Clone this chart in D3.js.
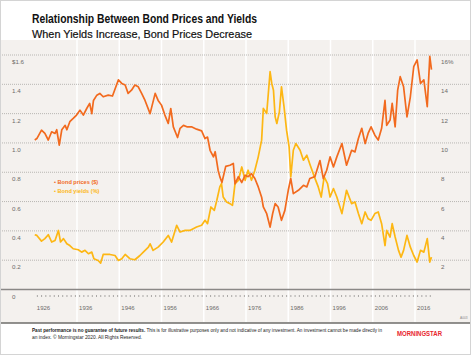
<!DOCTYPE html>
<html><head><meta charset="utf-8">
<script src="https://cdn.jsdelivr.net/npm/d3@7"></script>
<style>
html,body{margin:0;padding:0;background:#fff;}
svg{display:block;}
text{font-family:"Liberation Sans Narrow","Liberation Sans",Arial,sans-serif;}
</style></head>
<body>
<svg id="c" width="471" height="355"></svg>
<script>
// ---- data ----
const priceDates = [1926.0,1926.5,1927.6,1928.4,1929.2,1930.0,1930.8,1931.2,1931.8,1932.4,1933.2,1933.6,1934.3,1935.1,1935.9,1936.7,1937.5,1938.3,1939.0,1939.5,1939.9,1940.7,1941.4,1942.2,1943.4,1944.4,1945.2,1945.8,1946.6,1947.4,1948.1,1948.9,1949.7,1950.5,1951.3,1952.1,1953.3,1954.5,1955.2,1956.0,1956.8,1957.6,1958.2,1958.8,1959.8,1960.4,1961.2,1962.0,1963.1,1964.3,1965.5,1966.3,1966.9,1967.5,1968.3,1968.7,1969.4,1969.8,1970.3,1971.2,1972.2,1973.0,1973.4,1974.2,1975.0,1975.8,1976.5,1977.3,1978.1,1978.9,1979.7,1980.1,1980.9,1981.7,1982.3,1982.9,1983.6,1984.4,1985.2,1986.0,1986.6,1987.2,1988.4,1989.6,1990.4,1991.1,1992.3,1993.5,1994.3,1995.1,1995.9,1996.7,1997.5,1998.7,1999.8,2001.0,2001.8,2002.6,2003.4,2004.2,2004.9,2005.6,2006.5,2007.3,2008.1,2008.9,2009.3,2010.1,2010.6,2011.3,2011.9,2012.5,2013.3,2014.1,2014.9,2015.7,2016.5,2017.3,2018.1,2018.9,2019.5,2019.9];
const priceValues = [1.02,1.03,1.087,1.065,1.02,1.076,1.065,1.09,0.985,1.09,1.12,1.09,1.145,1.167,1.19,1.224,1.19,1.235,1.27,1.20,1.29,1.326,1.338,1.315,1.326,1.32,1.383,1.43,1.406,1.395,1.338,1.36,1.395,1.383,1.338,1.29,1.20,1.338,1.29,1.258,1.19,1.133,1.235,1.11,1.037,1.10,1.12,1.11,1.11,1.094,1.082,1.03,1.04,0.95,0.905,0.94,0.814,0.77,0.73,0.84,0.848,0.86,0.72,0.77,0.73,0.78,0.77,0.79,0.757,0.70,0.63,0.563,0.517,0.426,0.517,0.586,0.563,0.472,0.54,0.677,0.757,0.654,0.677,0.711,0.70,0.757,0.77,0.88,0.757,0.814,0.905,0.836,0.905,0.996,0.848,0.95,0.939,1.03,1.10,0.996,1.065,1.11,1.053,1.02,1.10,1.29,1.12,1.156,1.27,1.11,1.36,1.452,1.383,1.178,1.315,1.52,1.566,1.406,1.43,1.247,1.59,1.50];
const yieldDates = [1926.0,1926.5,1927.6,1928.4,1929.2,1930.0,1930.8,1931.6,1932.1,1932.8,1933.6,1934.3,1935.1,1936.3,1937.1,1937.9,1938.7,1939.5,1940.0,1941.0,1941.6,1942.2,1943.8,1945.0,1945.8,1946.6,1947.4,1948.5,1949.7,1950.9,1951.7,1952.9,1953.3,1954.0,1955.2,1956.4,1957.6,1958.4,1959.6,1960.4,1961.6,1962.7,1964.3,1965.5,1966.3,1966.9,1967.7,1968.5,1969.1,1969.8,1970.2,1970.6,1971.4,1972.2,1972.8,1973.4,1974.2,1975.0,1975.8,1976.5,1977.3,1978.1,1978.9,1979.7,1980.1,1980.9,1981.7,1982.1,1982.5,1982.9,1983.3,1983.9,1984.4,1985.0,1985.6,1986.2,1986.6,1987.2,1987.8,1988.8,1989.6,1990.4,1991.2,1992.3,1993.1,1993.8,1994.5,1995.3,1995.9,1996.7,1997.5,1998.7,1999.8,2001.0,2001.8,2002.6,2003.4,2004.2,2004.9,2005.6,2006.5,2007.3,2008.1,2008.9,2009.3,2010.1,2010.6,2011.3,2012.1,2012.7,2013.3,2014.1,2014.9,2015.7,2016.5,2017.3,2018.1,2018.9,2019.5,2019.9];
const yieldValues = [3.74,3.69,3.3,3.47,3.74,3.24,3.35,4.03,3.24,3.47,3.12,3.0,2.78,2.71,2.55,2.67,2.44,2.55,2.1,1.98,1.8,2.39,2.39,2.32,1.98,2.1,2.39,2.1,2.03,2.32,2.55,2.89,3.12,2.67,2.89,3.24,3.69,3.24,4.38,3.92,4.03,4.03,4.26,4.38,4.72,4.49,5.63,5.4,6.09,7.0,7.23,6.31,5.97,5.86,5.74,7.23,7.45,8.36,7.45,8.14,7.45,8.14,9.05,10.19,12.36,12.01,14.86,14.06,13.6,11.78,11.33,12.12,13.83,12.47,10.87,9.73,7.68,9.5,9.96,9.5,8.82,9.16,8.48,7.6,7.0,6.31,7.68,7.23,6.31,6.89,6.31,5.18,6.77,5.86,5.97,5.18,4.49,5.29,4.83,4.72,5.18,5.29,4.49,3.0,4.03,3.58,4.49,3.58,2.67,2.21,2.67,3.69,2.89,2.32,1.87,2.67,2.55,3.47,1.87,2.21];
const leftTicks = [0,0.2,0.4,0.6,0.8,1.0,1.2,1.4,1.6];
const leftTickLabels = ["0","0.2","0.4","0.6","0.8","1.0","1.2","1.4","$1.6"];
const rightTicks = [2,4,6,8,10,12,14,16];
const rightTickLabels = ["2","4","6","8","10","12","14","16%"];
const decadeLabels = [1926,1936,1946,1956,1966,1976,1986,1996,2006,2016];
const seriesNames = ["Bond prices ($)","Bond yields (%)"];
const titleText = "Relationship Between Bond Prices and Yields";
const subtitleText = "When Yields Increase, Bond Prices Decrease";
const footerBold = "Past performance is no guarantee of future results.";
const footerRest = " This is for illustrative purposes only and not indicative of any investment. An investment cannot be made directly in";
const footerLine2 = "an index. \u00A9 Morningstar 2020. All Rights Reserved.";

// ---- drawing ----
const W = 471, H = 355;
const svg = d3.select("#c");
const cPrice = "#f26a1e", cYield = "#fdb714";
const x = d3.scaleLinear().domain([1926, 2016]).range([34.75, 415]);
const yL = d3.scaleLinear().domain([0, 1.6]).range([289.5, 55]);
const yR = d3.scaleLinear().domain([0, 16]).range([289.5, 55]);

// background
svg.append("rect").attr("x",0).attr("y",0).attr("width",W).attr("height",H).attr("fill","#fff");
svg.append("rect").attr("x",0).attr("y",40).attr("width",W).attr("height",283).attr("fill","#f4f1ee");

// vertical white decade separators
const years = d3.range(1926, 2020);
svg.append("g").selectAll("line").data(decadeLabels.slice(1)).join("line")
  .attr("x1", d => x(d)).attr("x2", d => x(d)).attr("y1", 40).attr("y2", 322)
  .attr("stroke", "#fff").attr("stroke-width", 1.5);

// horizontal dotted grid
svg.append("g").selectAll("line").data(leftTicks.filter(d => d > 0)).join("line")
  .attr("x1", 0).attr("x2", W).attr("y1", d => yL(d)).attr("y2", d => yL(d))
  .attr("stroke", "#b8b6b3").attr("stroke-width", 1).attr("stroke-dasharray", "1,1");
// baseline
svg.append("line").attr("x1",0).attr("x2",W).attr("y1",yL(0)).attr("y2",yL(0))
  .attr("stroke","#8a8886").attr("stroke-width",1.5);

// left labels
svg.append("g").selectAll("text").data(leftTicks).join("text")
  .attr("x", 12).attr("y", d => yL(d) + 9)
  .attr("font-size", 6.2).attr("fill", "#6d6b69")
  .text((d,i) => leftTickLabels[i]);
// right labels
svg.append("g").selectAll("text").data(rightTicks).join("text")
  .attr("x", 441).attr("y", d => yR(d) + 9)
  .attr("font-size", 6.2).attr("fill", "#6d6b69")
  .text((d,i) => rightTickLabels[i]);

// x axis ticks
const xAxis = d3.axisBottom(x).tickValues(years.map(d => d + 0.5)).tickSize(2).tickFormat("");
const gx = svg.append("g").attr("transform", "translate(0,295)").call(xAxis);
gx.select(".domain").remove();
gx.selectAll(".tick line").attr("stroke", "#8a8886").attr("stroke-width", 0.7);
svg.append("g").selectAll("text").data(decadeLabels).join("text")
  .attr("x", d => x(d + 0.5)).attr("y", 310)
  .attr("font-size", 6).attr("fill", "#6d6b69")
  .text(d => d);

// lines
const priceData = priceDates.map((d,i) => [d, priceValues[i]]);
const yieldData = yieldDates.map((d,i) => [d, yieldValues[i]]);
svg.append("path").datum(yieldData)
  .attr("d", d3.line().x(d => x(d[0])).y(d => yR(d[1])))
  .attr("fill","none").attr("stroke",cYield).attr("stroke-width",1.7).attr("stroke-linejoin","round");
svg.append("path").datum(priceData)
  .attr("d", d3.line().x(d => x(d[0])).y(d => yL(d[1])))
  .attr("fill","none").attr("stroke",cPrice).attr("stroke-width",1.7).attr("stroke-linejoin","round");

// legend
const leg = svg.append("g");
[cPrice, cYield].forEach((c,i) => {
  leg.append("text").attr("x", 54).attr("y", 184 + i*8.5)
    .attr("font-size", 5.6).attr("font-weight", "bold").attr("fill", c)
    .text("\u2022 " + seriesNames[i]);
});

// title
svg.append("text").attr("x",32).attr("y",22.5).attr("font-size",12).attr("font-weight","bold")
  .attr("fill","#111").attr("textLength",225).attr("lengthAdjust","spacingAndGlyphs").text(titleText);
svg.append("text").attr("x",32).attr("y",37.5).attr("font-size",11.5)
  .attr("fill","#111").attr("stroke","#111").attr("stroke-width",0.2)
  .attr("textLength",220).attr("lengthAdjust","spacingAndGlyphs").text(subtitleText);

// small code
svg.append("text").attr("x",460).attr("y",319).attr("font-size",3.2).attr("fill","#888").text("A003");

// footer
svg.append("line").attr("x1",0).attr("x2",W).attr("y1",323).attr("y2",323).attr("stroke","#6e6c6a").attr("stroke-width",1.5);
const f1 = svg.append("text").attr("x",32).attr("y",331.5).attr("font-size",4.9).attr("fill","#222")
  .attr("textLength",350).attr("lengthAdjust","spacingAndGlyphs");
f1.append("tspan").attr("font-weight","bold").text(footerBold);
f1.append("tspan").text(footerRest);
svg.append("text").attr("x",32).attr("y",338.8).attr("font-size",4.9).attr("fill","#222")
  .attr("textLength",110).attr("lengthAdjust","spacingAndGlyphs").text(footerLine2);

// logo
svg.append("text").attr("x",397).attr("y",336).attr("font-size",7.5).attr("font-weight","bold")
  .attr("fill","#e8242c").attr("textLength",45).attr("lengthAdjust","spacingAndGlyphs").text("MORNINGSTAR");

// outer border
svg.append("rect").attr("x",0.5).attr("y",0.5).attr("width",W-1).attr("height",H-1)
  .attr("fill","none").attr("stroke","#d4d4d4").attr("stroke-width",1);
</script>
</body></html>
